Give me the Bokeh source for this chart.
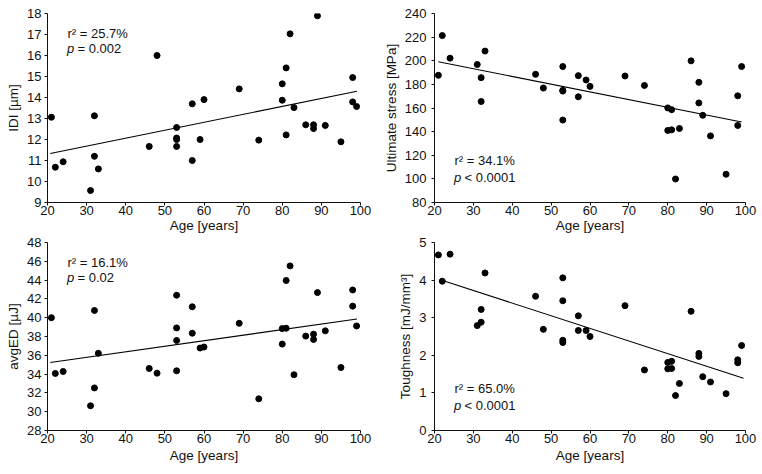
from bokeh.plotting import figure
from bokeh.models import Range1d, FixedTicker, Label
from bokeh.layouts import gridplot
from bokeh.embed import file_html
from bokeh.resources import INLINE

# ---------------- data ----------------
age = [21, 22, 24, 31, 32, 32, 33, 46, 48, 53, 53, 53, 53, 57, 57, 59, 60,
       69, 74, 80, 80, 81, 81, 82, 83, 86, 88, 88, 89, 91, 95, 98, 98, 99]

idi = [13.06, 10.68, 10.94, 9.57, 13.13, 11.2, 10.6, 11.67, 16.0, 12.57, 12.07,
       12.0, 11.67, 13.7, 11.0, 12.0, 13.9, 14.41, 11.97, 14.65, 13.87, 15.41,
       12.22, 17.03, 13.52, 12.70, 12.70, 12.52, 17.89, 12.67, 11.89, 14.95,
       13.79, 13.57]

stress = [187.7, 221.3, 202.2, 196.8, 185.7, 165.5, 208.2, 188.5, 176.9, 195.1,
          174.3, 175.0, 149.8, 187.4, 169.5, 183.7, 178.3, 187.1, 179.1, 160.1,
          141.0, 158.6, 141.5, 99.9, 142.7, 199.9, 181.7, 164.3, 153.8, 136.4,
          103.9, 170.3, 145.2, 195.1]

avged = [40.0, 34.07, 34.28, 30.63, 40.77, 32.53, 36.21, 34.6, 34.1, 42.39,
         38.91, 37.58, 34.35, 41.16, 38.35, 36.77, 36.88, 39.4, 31.37, 38.84,
         37.19, 38.88, 43.96, 45.51, 33.93, 38.04, 38.25, 37.68, 42.67, 38.6,
         34.7, 42.95, 41.23, 39.12]

tough = [4.67, 3.97, 4.69, 2.79, 3.22, 2.88, 4.19, 3.57, 2.69, 4.06, 3.45, 2.40,
         2.34, 3.05, 2.66, 2.66, 2.50, 3.32, 1.61, 1.81, 1.64, 1.84, 1.65, 0.93,
         1.25, 3.17, 2.05, 1.97, 1.43, 1.29, 0.98, 1.88, 1.80, 2.26]

# regression line end points
idi_fit_x = [20.7, 99.1]
idi_fit_y = [11.33, 14.30]
stress_fit_x = [21, 99]
stress_fit_y = [199.1, 148.1]
avged_fit_x = [20.7, 99.1]
avged_fit_y = [35.23, 39.86]
tough_fit_x = [21.5, 99.5]
tough_fit_y = [4.01, 1.39]

# axes / ticks
age_ticks = [20, 30, 40, 50, 60, 70, 80, 90, 100]
idi_ticks = [9, 10, 11, 12, 13, 14, 15, 16, 17, 18]
stress_ticks = [80, 100, 120, 140, 160, 180, 200, 220, 240]
avged_ticks = [28, 30, 32, 34, 36, 38, 40, 42, 44, 46, 48]
tough_ticks = [0, 1, 2, 3, 4, 5]

labels_y = ["IDI [\u00b5m]", "Ultimate stress [MPa]", "avgED [\u00b5J]",
            "Toughness [mJ/mm\u00b3]"]
label_x = "Age [years]"
r2_texts = ["r\u00b2 = 25.7%", "r\u00b2 = 34.1%", "r\u00b2 = 16.1%", "r\u00b2 = 65.0%"]
p_texts = ["= 0.002", "< 0.0001", "= 0.02", "< 0.0001"]

# ---------------- styling ----------------
FONT = "Liberation Sans"
INK = "#111111"


def make_panel(y, fit_x, fit_y, yticks, ylabel, r2, ptxt, text_on_top,
               width, height, bl, br, bt, bb, y_standoff, xlab_standoff):
    p = figure(width=width, height=height,
               x_range=Range1d(age_ticks[0], age_ticks[-1]),
               y_range=Range1d(yticks[0], yticks[-1]),
               output_backend="svg", toolbar_location=None,
               min_border_left=bl, min_border_right=br,
               min_border_top=bt, min_border_bottom=bb)
    p.outline_line_color = None
    p.grid.visible = False
    p.background_fill_color = "white"
    p.border_fill_color = "white"

    p.line(fit_x, fit_y, line_color="black", line_width=1.1)
    p.scatter(age, y, size=6, fill_color="black", line_color="black")

    for ax in (p.xaxis[0], p.yaxis[0]):
        ax.axis_line_color = INK
        ax.axis_line_width = 1
        ax.major_tick_line_color = INK
        ax.major_tick_in = 0
        ax.major_tick_out = 3
        ax.minor_tick_line_color = None
        ax.major_label_text_font = FONT
        ax.major_label_text_font_size = "13px"
        ax.major_label_text_color = INK
        ax.axis_label_text_font = FONT
        ax.axis_label_text_font_size = "13.5px"
        ax.axis_label_text_font_style = "normal"
        ax.axis_label_text_color = INK

    p.xaxis.ticker = FixedTicker(ticks=age_ticks)
    p.xaxis.axis_label = label_x
    p.xaxis.major_label_standoff = 0
    p.xaxis.axis_label_standoff = xlab_standoff

    p.yaxis.ticker = FixedTicker(ticks=yticks)
    p.yaxis.axis_label = ylabel
    p.yaxis.major_label_standoff = y_standoff
    p.yaxis.axis_label_standoff = 3

    if text_on_top:
        ybase, off1, off2 = yticks[-1], -19.5, -34.5
    else:
        ybase, off1, off2 = yticks[0], 42, 25.5
    common = dict(text_font=FONT, text_font_size="13px", text_color=INK,
                  text_baseline="alphabetic", x_units="data", y_units="data")
    p.add_layout(Label(x=age_ticks[0], y=ybase, x_offset=20, y_offset=off1,
                       text=r2, **common))
    p.add_layout(Label(x=age_ticks[0], y=ybase, x_offset=19.5, y_offset=off2,
                       text="p", text_font_style="italic", **common))
    p.add_layout(Label(x=age_ticks[0], y=ybase, x_offset=30, y_offset=off2,
                       text=ptxt, **common))
    return p


# left column: 47 + 313 + 20 = 380 ; right column: 54 + 311 + 17 = 382
# top row: 13 + 189 + 33 = 235 ; bottom row: 7 + 188 + 44 = 239
p1 = make_panel(idi, idi_fit_x, idi_fit_y, idi_ticks, labels_y[0], r2_texts[0],
                p_texts[0], True, 380, 235, 47, 20, 13, 33, 3, 0)
p2 = make_panel(stress, stress_fit_x, stress_fit_y, stress_ticks, labels_y[1],
                r2_texts[1], p_texts[1], False, 382, 235, 54, 17, 13, 33, 5, 0)
p3 = make_panel(avged, avged_fit_x, avged_fit_y, avged_ticks, labels_y[2],
                r2_texts[2], p_texts[2], True, 380, 239, 47, 20, 7, 44, 3, 2)
p4 = make_panel(tough, tough_fit_x, tough_fit_y, tough_ticks, labels_y[3],
                r2_texts[3], p_texts[3], False, 382, 239, 54, 17, 7, 44, 5, 2)

grid = gridplot([[p1, p2], [p3, p4]], toolbar_location=None)

open("out.html", "w").write(file_html(grid, INLINE))
